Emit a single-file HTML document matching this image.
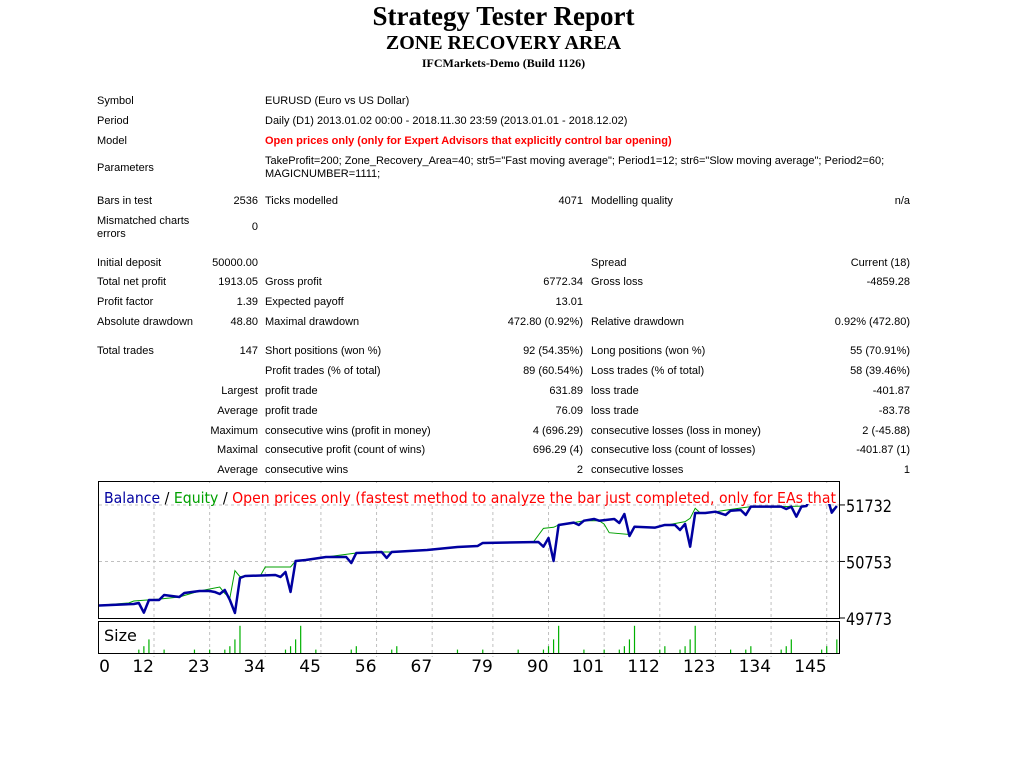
<!DOCTYPE html>
<html><head><meta charset="utf-8">
<style>
body{margin:0;width:1024px;height:768px;background:#fff;position:relative;overflow:hidden;font-family:"Liberation Sans",sans-serif;}
.t{position:absolute;font-size:11px;color:#000;white-space:nowrap;line-height:13px;}
.r{text-align:right;}
.h{position:absolute;left:0;width:1007px;text-align:center;font-family:"Liberation Serif",serif;font-weight:bold;color:#000;}
</style></head><body>
<div class="h" style="top:1px;font-size:27px;">Strategy Tester Report</div>
<div class="h" style="top:32px;font-size:20px;">ZONE RECOVERY AREA</div>
<div class="h" style="top:56px;font-size:12px;">IFCMarkets-Demo (Build 1126)</div>

<div class="t" style="left:97px;top:95px">Symbol</div>
<div class="t" style="left:265px;top:95px">EURUSD (Euro vs US Dollar)</div>
<div class="t" style="left:97px;top:115px">Period</div>
<div class="t" style="left:265px;top:115px">Daily (D1) 2013.01.02 00:00 - 2018.11.30 23:59 (2013.01.01 - 2018.12.02)</div>
<div class="t" style="left:97px;top:135px">Model</div>
<div class="t" style="left:265px;top:135px;color:#f00;font-weight:bold">Open prices only (only for Expert Advisors that explicitly control bar opening)</div>
<div class="t" style="left:97px;top:162px">Parameters</div>
<div class="t" style="left:265px;top:155px">TakeProfit=200; Zone_Recovery_Area=40; str5="Fast moving average"; Period1=12; str6="Slow moving average"; Period2=60;<br>MAGICNUMBER=1111;</div>

<div class="t" style="left:97px;top:195px">Bars in test</div>
<div class="t r" style="left:180px;width:78px;top:195px">2536</div>
<div class="t" style="left:265px;top:195px">Ticks modelled</div>
<div class="t r" style="left:480px;width:103px;top:195px">4071</div>
<div class="t" style="left:591px;top:195px">Modelling quality</div>
<div class="t r" style="left:800px;width:110px;top:195px">n/a</div>
<div class="t" style="left:97px;top:215px">Mismatched charts<br>errors</div>
<div class="t r" style="left:180px;width:78px;top:221px">0</div>

<div class="t" style="left:97px;top:257px">Initial deposit</div>
<div class="t r" style="left:180px;width:78px;top:257px">50000.00</div>
<div class="t" style="left:591px;top:257px">Spread</div>
<div class="t r" style="left:800px;width:110px;top:257px">Current (18)</div>
<div class="t" style="left:97px;top:276px">Total net profit</div>
<div class="t r" style="left:180px;width:78px;top:276px">1913.05</div>
<div class="t" style="left:265px;top:276px">Gross profit</div>
<div class="t r" style="left:480px;width:103px;top:276px">6772.34</div>
<div class="t" style="left:591px;top:276px">Gross loss</div>
<div class="t r" style="left:800px;width:110px;top:276px">-4859.28</div>
<div class="t" style="left:97px;top:296px">Profit factor</div>
<div class="t r" style="left:180px;width:78px;top:296px">1.39</div>
<div class="t" style="left:265px;top:296px">Expected payoff</div>
<div class="t r" style="left:480px;width:103px;top:296px">13.01</div>
<div class="t" style="left:97px;top:316px">Absolute drawdown</div>
<div class="t r" style="left:180px;width:78px;top:316px">48.80</div>
<div class="t" style="left:265px;top:316px">Maximal drawdown</div>
<div class="t r" style="left:440px;width:143px;top:316px">472.80 (0.92%)</div>
<div class="t" style="left:591px;top:316px">Relative drawdown</div>
<div class="t r" style="left:780px;width:130px;top:316px">0.92% (472.80)</div>

<div class="t" style="left:97px;top:345px">Total trades</div>
<div class="t r" style="left:180px;width:78px;top:345px">147</div>
<div class="t" style="left:265px;top:345px">Short positions (won %)</div>
<div class="t r" style="left:440px;width:143px;top:345px">92 (54.35%)</div>
<div class="t" style="left:591px;top:345px">Long positions (won %)</div>
<div class="t r" style="left:780px;width:130px;top:345px">55 (70.91%)</div>
<div class="t" style="left:265px;top:365px">Profit trades (% of total)</div>
<div class="t r" style="left:440px;width:143px;top:365px">89 (60.54%)</div>
<div class="t" style="left:591px;top:365px">Loss trades (% of total)</div>
<div class="t r" style="left:780px;width:130px;top:365px">58 (39.46%)</div>
<div class="t r" style="left:180px;width:78px;top:385px">Largest</div>
<div class="t" style="left:265px;top:385px">profit trade</div>
<div class="t r" style="left:440px;width:143px;top:385px">631.89</div>
<div class="t" style="left:591px;top:385px">loss trade</div>
<div class="t r" style="left:780px;width:130px;top:385px">-401.87</div>
<div class="t r" style="left:180px;width:78px;top:405px">Average</div>
<div class="t" style="left:265px;top:405px">profit trade</div>
<div class="t r" style="left:440px;width:143px;top:405px">76.09</div>
<div class="t" style="left:591px;top:405px">loss trade</div>
<div class="t r" style="left:780px;width:130px;top:405px">-83.78</div>
<div class="t r" style="left:180px;width:78px;top:425px">Maximum</div>
<div class="t" style="left:265px;top:425px">consecutive wins (profit in money)</div>
<div class="t r" style="left:440px;width:143px;top:425px">4 (696.29)</div>
<div class="t" style="left:591px;top:425px">consecutive losses (loss in money)</div>
<div class="t r" style="left:780px;width:130px;top:425px">2 (-45.88)</div>
<div class="t r" style="left:180px;width:78px;top:444px">Maximal</div>
<div class="t" style="left:265px;top:444px">consecutive profit (count of wins)</div>
<div class="t r" style="left:440px;width:143px;top:444px">696.29 (4)</div>
<div class="t" style="left:591px;top:444px">consecutive loss (count of losses)</div>
<div class="t r" style="left:780px;width:130px;top:444px">-401.87 (1)</div>
<div class="t r" style="left:180px;width:78px;top:464px">Average</div>
<div class="t" style="left:265px;top:464px">consecutive wins</div>
<div class="t r" style="left:440px;width:143px;top:464px">2</div>
<div class="t" style="left:591px;top:464px">consecutive losses</div>
<div class="t r" style="left:780px;width:130px;top:464px">1</div>

<svg id="chart" width="1024" height="768" style="position:absolute;left:0;top:0" xmlns="http://www.w3.org/2000/svg">
  <g id="grid"></g>
  <g id="series"></g>
  <g id="sizes"></g>
  <rect x="98.5" y="481.5" width="741" height="137" fill="none" stroke="#000"/>
  <rect x="98.5" y="621.5" width="741" height="32" fill="none" stroke="#000"/>
  <rect x="100" y="483" width="738" height="21" fill="#fff"/>
  <text x="104" y="503" font-size="15" font-family="DejaVu Sans, sans-serif" textLength="732" lengthAdjust="spacingAndGlyphs"><tspan fill="#0000a0">Balance</tspan><tspan fill="#000"> / </tspan><tspan fill="#00a000">Equity</tspan><tspan fill="#000"> / </tspan><tspan fill="#f00">Open prices only (fastest method to analyze the bar just completed, only for EAs that</tspan></text>
  <text x="104" y="641" font-size="16" font-family="DejaVu Sans, sans-serif">Size</text>
  <g id="axes"></g>
</svg>
<script>
const yTicks=[49773,50753,51732];
const xTicks=[0,12,23,34,45,56,67,79,90,101,112,123,134,145];
const balTrades=[0,8,9,10,11,13,14,17,18,21,23,24,25,26,27,28,29,30,36,37,38,39,40,42,46,50,51,52,57,58,59,66,70,72,76,77,88,89,90,91,92,95,96,97,99,100,103,104,105,106,107,111,113,115,116,117,118,119,121,123,125,126,128,129,130,136,137,138,139,140,141,142,145,146,147];
const balValues=[49986,50016,50033,49865,50085,50085,50172,50137,50206,50241,50241,50224,50189,50258,50085,49860,50466,50501,50518,50484,50570,50224,50761,50778,50830,50830,50726,50900,50917,50813,50917,50951,50986,51003,51021,51073,51090,51009,51159,50761,51385,51425,51385,51459,51489,51459,51489,51419,51575,51194,51355,51338,51385,51385,51298,51402,51009,51593,51593,51615,51558,51632,51645,51558,51702,51702,51662,51702,51529,51702,51714,51900,51900,51598,51714];
const eqTrades=[0,7,8,13,17,21,23,25,26,27,28,29,30,33,34,39,40,42,46,52,57,59,66,70,76,77,87,89,91,92,95,97,100,101,102,106,107,111,112,117,118,119,120,123,128,130,136,141,142,145,146,147];
const eqValues=[49986,50033,50068,50100,50137,50241,50275,50310,50200,50120,50593,50489,50501,50501,50657,50657,50761,50778,50830,50900,50917,50917,50951,50986,51021,51073,51090,51327,51345,51385,51425,51459,51459,51400,51251,51220,51355,51338,51360,51442,51500,51674,51593,51615,51680,51702,51702,51714,51900,51900,51640,51714];
const sizeTrades=[9,10,11,14,20,23,26,27,28,29,38,39,40,41,44,51,52,59,60,72,77,84,89,90,91,92,97,101,104,105,106,107,112,113,116,117,118,119,126,129,130,136,137,138,144,145,147];
const sizeValues=[0.1,0.2,0.4,0.1,0.1,0.1,0.1,0.2,0.4,0.8,0.1,0.2,0.4,0.8,0.1,0.1,0.2,0.1,0.2,0.1,0.1,0.1,0.1,0.2,0.4,0.8,0.1,0.1,0.1,0.2,0.4,0.8,0.1,0.2,0.1,0.2,0.4,0.8,0.1,0.1,0.2,0.1,0.2,0.4,0.1,0.2,0.4];

const NS='http://www.w3.org/2000/svg';
const X=i=>93.3+5.058*i;
const Y=v=>618-(v-49773)*56.5/979;
const S=s=>653-s*34;
function mk(tag,attrs,parent){const e=document.createElementNS(NS,tag);for(const k in attrs)e.setAttribute(k,attrs[k]);parent.appendChild(e);return e;}
const grid=document.getElementById('grid'),series=document.getElementById('series'),sizes=document.getElementById('sizes'),axes=document.getElementById('axes');
xTicks.forEach(t=>{
  if(t===0)return;
  const l=mk('line',{x1:X(t),x2:X(t),y1:482,y2:657,stroke:'#c0c0c0','stroke-dasharray':'3,3'},grid);
  
  
});
xTicks.forEach(t=>{
  const tx=mk('text',{x:Math.max(X(t),110),y:672,'font-size':17,'font-family':'DejaVu Sans, sans-serif','text-anchor':'end',fill:'#000'},axes);
  tx.textContent=t;
  
  
});
yTicks.forEach((t,k)=>{
  if(k>0){
    const g=mk('line',{x1:99,x2:839,y1:Y(t),y2:Y(t),stroke:'#c0c0c0','stroke-dasharray':'3,3'},grid);
    
    
  }
  const tk=mk('line',{x1:839,x2:845,y1:Y(t),y2:Y(t),stroke:'#000'},axes);
  
  
  const tx=mk('text',{x:846,y:Y(t)+7,'font-size':17,'font-family':'DejaVu Sans, sans-serif',fill:'#000',textLength:46,lengthAdjust:'spacingAndGlyphs'},axes);
  tx.textContent=t;
  
  
});
const clip=mk('clipPath',{id:'pc'},series);mk('rect',{x:99,y:482,width:740,height:136},clip);
const eq=mk('polyline',{points:eqTrades.map((t,i)=>X(t)+','+Y(eqValues[i])).join(' '),fill:'none',stroke:'#00a000','stroke-width':1,'clip-path':'url(#pc)'},series);


const bal=mk('polyline',{points:balTrades.map((t,i)=>X(t)+','+Y(balValues[i])).join(' '),fill:'none',stroke:'#0000a0','stroke-width':2.5,'stroke-linejoin':'round','clip-path':'url(#pc)'},series);


sizeTrades.forEach((t,i)=>{
  const b=mk('line',{x1:X(t),x2:X(t),y1:653,y2:S(sizeValues[i]),stroke:'#00b000','stroke-width':1.2},sizes);
  
  
});
</script>
</body></html>
